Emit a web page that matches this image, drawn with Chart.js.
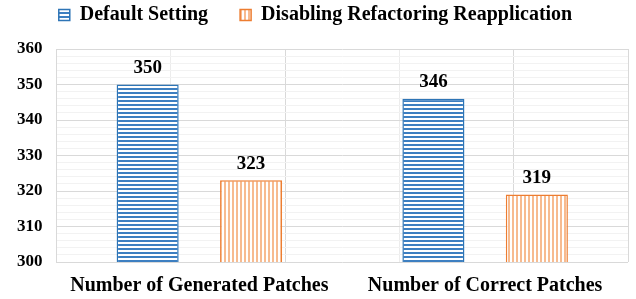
<!DOCTYPE html>
<html lang="en">
<head>
    <meta charset="UTF-8">
    <title>Patches chart</title>
    <script src="https://cdn.jsdelivr.net/npm/chart.js"></script>
    <style>
        body {
            margin: 0;
            padding: 0;
            background: white;
        }
        .chart-container {
            width: 636px;
            height: 299px;
        }
    </style>
</head>
<body>
    <div class="chart-container">
        <canvas id="patchChart"></canvas>
    </div>

    <script>
        // data
        const categories = ['Number of Generated Patches', 'Number of Correct Patches'];
        const defaultSetting = [350, 346];
        const disablingReapplication = [323, 319];
        const seriesNames = ['Default Setting', 'Disabling Refactoring Reapplication'];

        const serif = "'Liberation Serif', 'Times New Roman', serif";

        // striped fills like the office chart patterns
        function makePattern(stripe, horizontal) {
            const c = document.createElement('canvas');
            c.width = 4;
            c.height = 4;
            const g = c.getContext('2d');
            g.fillStyle = '#ffffff';
            g.fillRect(0, 0, 4, 4);
            g.fillStyle = stripe;
            if (horizontal) g.fillRect(0, 0, 4, 2);
            else g.fillRect(0, 0, 2, 4);
            return g.createPattern(c, 'repeat');
        }
        const bluePattern = makePattern('#3d7fc1', true);
        const orangePattern = makePattern('#f7bb90', false);

        // value labels above each bar
        const valueLabels = {
            id: 'valueLabels',
            afterDatasetsDraw(chart) {
                const ctx = chart.ctx;
                ctx.save();
                ctx.font = 'bold 19px ' + serif;
                ctx.fillStyle = '#000';
                ctx.textAlign = 'center';
                ctx.textBaseline = 'bottom';
                chart.data.datasets.forEach((ds, i) => {
                    chart.getDatasetMeta(i).data.forEach((bar, j) => {
                        ctx.fillText(ds.data[j], bar.x, bar.y - 7);
                    });
                });
                ctx.restore();
            }
        };

        const chart = new Chart(document.getElementById('patchChart'), {
            type: 'bar',
            data: {
                labels: categories,
                datasets: [{
                    label: seriesNames[0],
                    data: defaultSetting,
                    backgroundColor: bluePattern,
                    borderColor: '#2e75b6',
                    borderWidth: 1.5
                }, {
                    label: seriesNames[1],
                    data: disablingReapplication,
                    backgroundColor: orangePattern,
                    borderColor: '#ed7d31',
                    borderWidth: 1.5
                }]
            },
            options: {
                responsive: true,
                maintainAspectRatio: false,
                animation: false,
                categoryPercentage: 0.724,
                barPercentage: 0.6,
                layout: {
                    // legend padding is wide for the item gap, pull it up
                    padding: { left: 3, right: 8, top: -27, bottom: 0 }
                },
                plugins: {
                    legend: {
                        position: 'top',
                        labels: {
                            boxWidth: 11,
                            boxHeight: 11,
                            padding: 32,
                            color: '#000',
                            font: { family: serif, size: 20, weight: 'bold' }
                        }
                    },
                    tooltip: { enabled: false }
                },
                scales: {
                    x: {
                        grid: { display: false, drawTicks: false },
                        border: { display: false },
                        afterFit: (s) => { s.height = 37; },
                        ticks: {
                            color: '#000',
                            padding: 12,
                            font: { family: serif, size: 20, weight: 'bold' }
                        }
                    },
                    x2: {
                        type: 'linear',
                        position: 'top',
                        min: 0,
                        max: 4,
                        afterFit: (s) => { s.height = 14; },
                        ticks: { display: false, stepSize: 1 },
                        grid: {
                            drawTicks: false,
                            color: (c) => c.tick && c.tick.value % 2 === 1 ? '#ececec' : '#d9d9d9'
                        },
                        border: { display: false }
                    },
                    y: {
                        min: 300,
                        max: 360,
                        ticks: {
                            stepSize: 2,
                            autoSkip: false,
                            color: '#000',
                            padding: 14,
                            font: { family: serif, size: 17, weight: 'bold' },
                            callback: (v) => v % 10 === 0 ? v : ''
                        },
                        grid: {
                            drawTicks: false,
                            color: (c) => c.tick && c.tick.value % 10 === 0 ? '#d9d9d9' : '#f2f2f2'
                        },
                        border: { color: '#d9d9d9' }
                    }
                }
            },
            plugins: [valueLabels]
        });
    </script>
</body>
</html>
